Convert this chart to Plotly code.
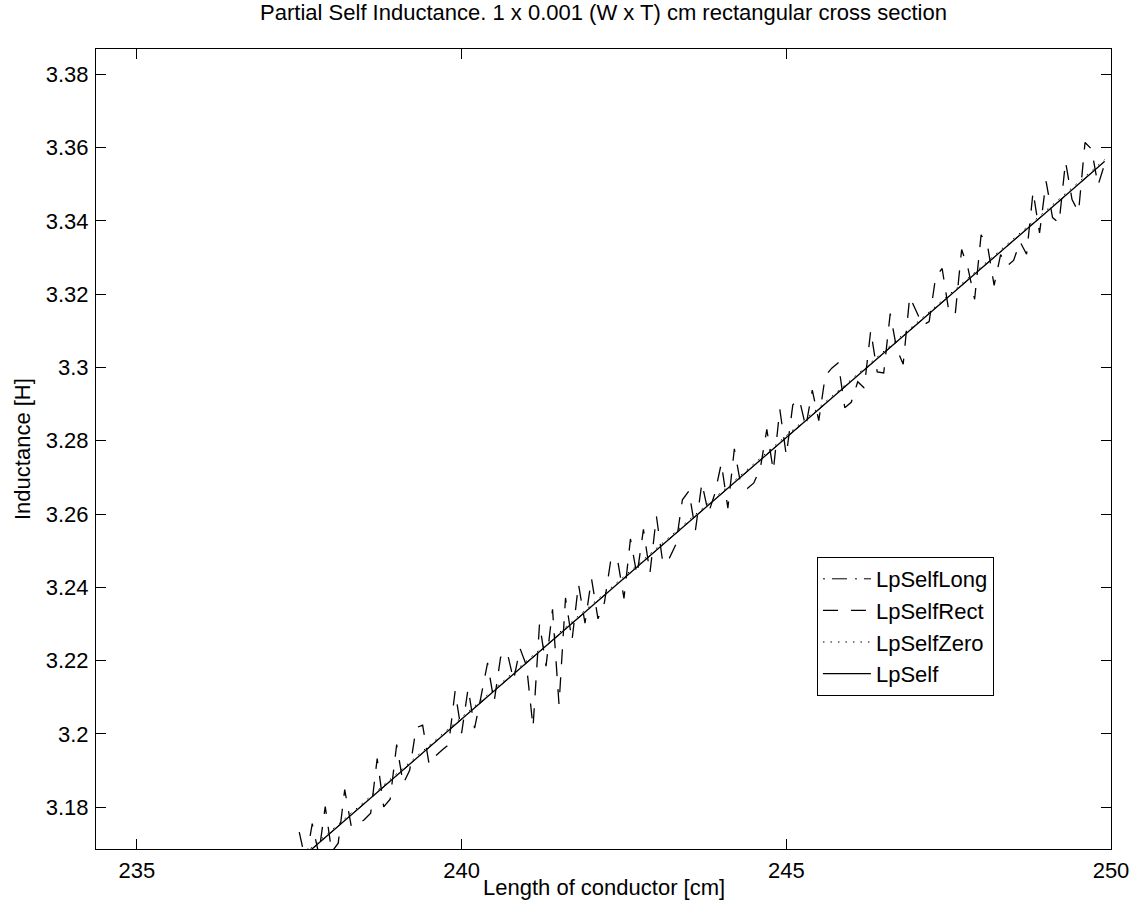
import plotly.graph_objects as go

# conductor length [cm] for the noisy rectangular-section result
rect_x = [237.5, 237.6, 237.7, 237.8, 237.9, 238.0, 238.1, 238.2, 238.3, 238.4,
          238.5, 238.6, 238.7, 238.8, 238.9, 239.0, 239.1, 239.2, 239.3, 239.4,
          239.5, 239.6, 239.7, 239.8, 239.9, 240.0, 240.1, 240.2, 240.3, 240.4,
          240.5, 240.6, 240.7, 240.8, 240.9, 241.0, 241.1, 241.2, 241.3, 241.4,
          241.5, 241.6, 241.7, 241.8, 241.9, 242.0, 242.1, 242.2, 242.3, 242.4,
          242.5, 242.6, 242.7, 242.8, 242.9, 243.0, 243.1, 243.2, 243.3, 243.4,
          243.5, 243.6, 243.7, 243.8, 243.9, 244.0, 244.1, 244.2, 244.3, 244.4,
          244.5, 244.6, 244.7, 244.8, 244.9, 245.0, 245.1, 245.2, 245.3, 245.4,
          245.5, 245.6, 245.7, 245.8, 245.9, 246.0, 246.1, 246.2, 246.3, 246.4,
          246.5, 246.6, 246.7, 246.8, 246.9, 247.0, 247.1, 247.2, 247.3, 247.4,
          247.5, 247.6, 247.7, 247.8, 247.9, 248.0, 248.1, 248.2, 248.3, 248.4,
          248.5, 248.6, 248.7, 248.8, 248.9, 249.0, 249.1, 249.2, 249.3, 249.4,
          249.5, 249.6, 249.7, 249.8, 249.9]

lp_self_rect = [3.1732, 3.1652, 3.1755, 3.1672, 3.1802, 3.1678, 3.1702, 3.1848, 3.1749, 3.1751,
                3.1766, 3.1784, 3.1933, 3.1801, 3.1822, 3.1971, 3.1864, 3.1901, 3.2017, 3.2024,
                3.1917, 3.1940, 3.1956, 3.1971, 3.2117, 3.2002, 3.2124, 3.2016, 3.2103, 3.2194,
                3.2087, 3.2209, 3.2224, 3.2147, 3.2233, 3.2186, 3.2018, 3.2301, 3.2185, 3.2340,
                3.2080, 3.2371, 3.2255, 3.2409, 3.2302, 3.2424, 3.2314, 3.2359, 3.2478, 3.2477,
                3.2370, 3.2532, 3.2433, 3.2558, 3.2439, 3.2594, 3.2465, 3.2480, 3.2517, 3.2639,
                3.2663, 3.2555, 3.2685, 3.2602, 3.2656, 3.2739, 3.2616, 3.2778, 3.2679, 3.2670,
                3.2685, 3.2725, 3.2831, 3.2718, 3.2886, 3.2760, 3.2898, 3.2913, 3.2838, 3.2938,
                3.2855, 3.2977, 3.2998, 3.3013, 3.2890, 3.2905, 3.2961, 3.2944, 3.3101, 3.2988,
                3.2985, 3.3147, 3.3051, 3.3009, 3.3193, 3.3154, 3.3115, 3.3125, 3.3247, 3.3270,
                3.3157, 3.3143, 3.3322, 3.3269, 3.3186, 3.3362, 3.3331, 3.3224, 3.3308, 3.3277,
                3.3292, 3.3343, 3.3309, 3.3480, 3.3367, 3.3508, 3.3409, 3.3394, 3.3562, 3.3458,
                3.3424, 3.3614, 3.3596, 3.3497, 3.3554]

# smooth results, read at whole centimetres
smooth_x = [237.5, 238, 239, 240, 241, 242, 243, 244, 245, 246, 247, 248, 249, 249.9]
lp_self_long = [3.1656, 3.1733, 3.1886, 3.2040, 3.2194, 3.2347, 3.2501,
                3.2655, 3.2809, 3.2962, 3.3116, 3.3270, 3.3423, 3.3562]
lp_self_zero = [3.1661, 3.1738, 3.1891, 3.2045, 3.2199, 3.2352, 3.2506,
                3.2660, 3.2814, 3.2967, 3.3121, 3.3275, 3.3428, 3.3567]
lp_self = [3.1656, 3.1733, 3.1886, 3.2040, 3.2194, 3.2347, 3.2501,
           3.2655, 3.2809, 3.2962, 3.3116, 3.3270, 3.3423, 3.3562]

x_ticks = [235, 240, 245, 250]
y_ticks = [3.18, 3.20, 3.22, 3.24, 3.26, 3.28, 3.30, 3.32, 3.34, 3.36, 3.38]
y_tick_text = ["3.18", "3.2", "3.22", "3.24", "3.26", "3.28", "3.3", "3.32", "3.34", "3.36", "3.38"]

font = "Liberation Sans, Arial, Helvetica, sans-serif"

fig = go.Figure()
fig.add_trace(go.Scatter(x=smooth_x, y=lp_self_long, mode="lines", name="LpSelfLong",
                         line=dict(color="black", width=1, dash="2px,7px,15px,8px")))
fig.add_trace(go.Scatter(x=rect_x, y=lp_self_rect, mode="lines", name="LpSelfRect",
                         line=dict(color="black", width=1.3, dash="15px,13px")))
fig.add_trace(go.Scatter(x=smooth_x, y=lp_self_zero, mode="lines", name="LpSelfZero",
                         line=dict(color="black", width=1, dash="1.5px,6px")))
fig.add_trace(go.Scatter(x=smooth_x, y=lp_self, mode="lines", name="LpSelf",
                         line=dict(color="black", width=1.3)))

axis_style = dict(showline=True, linecolor="black", linewidth=1, mirror="ticks",
                  ticks="inside", ticklen=10, tickwidth=1, tickcolor="black",
                  showgrid=False, zeroline=False, automargin=False,
                  ticklabelstandoff=2,
                  tickfont=dict(family=font, size=22, color="black"))

fig.update_xaxes(range=[234.37, 250], tickvals=x_ticks, **axis_style)
fig.update_yaxes(range=[3.1686, 3.3869], tickvals=y_ticks, ticktext=y_tick_text,
                 **axis_style)

# axis titles placed where the original figure has them
fig.add_annotation(text="Length of conductor [cm]", xref="paper", yref="paper",
                   x=0.5, y=-0.0475, xanchor="center", yanchor="middle",
                   showarrow=False, font=dict(family=font, size=22, color="black"))
fig.add_annotation(text="Inductance [H]", xref="paper", yref="paper",
                   x=-0.0729, y=0.5, xanchor="center", yanchor="middle", textangle=-90,
                   showarrow=False, font=dict(family=font, size=22, color="black"))

fig.update_layout(
    width=1137, height=913,
    margin=dict(l=96, r=26, t=49, b=64),
    paper_bgcolor="white", plot_bgcolor="white",
    title=dict(text="Partial Self Inductance. 1 x 0.001 (W x T) cm rectangular cross section",
               xref="paper", x=0.5, xanchor="center", y=0.9869, yanchor="middle",
               font=dict(family=font, size=22, color="black")),
    legend=dict(x=0.7103, y=0.365, xanchor="left", yanchor="top",
                bgcolor="white", bordercolor="black", borderwidth=1, itemwidth=48,
                font=dict(family=font, size=22, color="black")),
    showlegend=True,
)

# drop the default page margin so the figure fills the window exactly
fig.write_html("out.html", config={"displayModeBar": False},
               post_script="document.body.style.margin = '0';")
